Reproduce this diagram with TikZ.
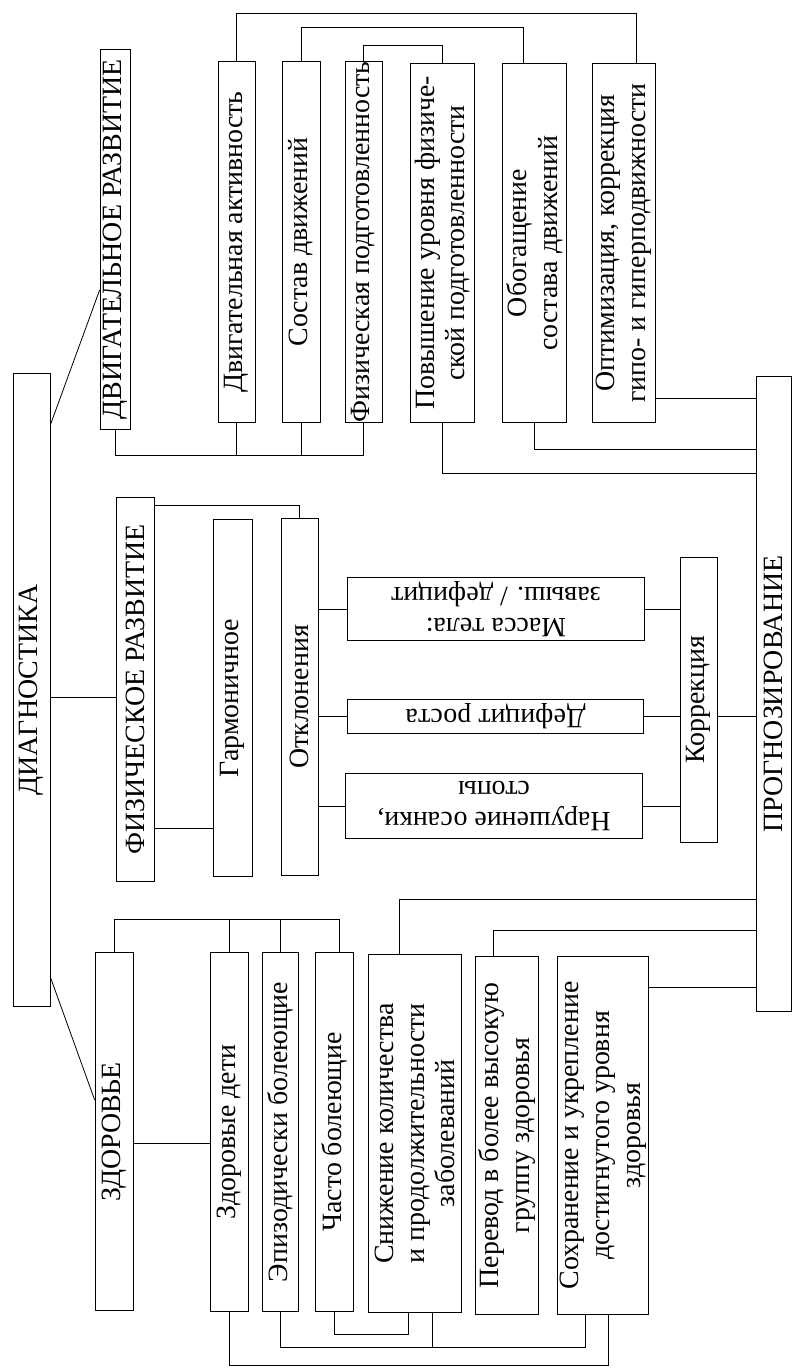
\documentclass[tikz,border=0pt]{standalone}
\usepackage{fontspec}
\setmainfont{Liberation Serif}

\tikzset{
  box/.style 2 args={draw, rotate=90, minimum width=#1, minimum height=#2, inner sep=0pt, align=center},
  flip/.style 2 args={draw, rotate=180, minimum width=#1, minimum height=#2, inner sep=0pt, align=center}
}

\begin{document}
\begin{tikzpicture}[x=1bp, y=-1bp, line width=0.8bp, font=\fontsize{28}{31}\selectfont]
    \useasboundingbox (0,0) rectangle (792,1368);
    \node[box={636}{37}] (diag) at (31.5,690) {ДИАГНОСТИКА};
    \node[box={638}{35}] (prog) at (773.5,694) {ПРОГНОЗИРОВАНИЕ};
    % motor development
    \node[box={381}{30}] (dvig) at (115,239.5) {ДВИГАТЕЛЬНОЕ РАЗВИТИЕ};
    \node[box={362}{37}] (aktiv) at (236.5,242) {Двигательная активность};
    \node[box={362}{38}] (sostav) at (301,242) {Состав движений};
    \node[box={362}{37}] (podg) at (363.5,242) {Физическая подготовленность};
    \node[box={360}{65}] (povysh) at (442.5,243) {Повышение уровня физиче-\\ской подготовленности};
    \node[box={360}{65}] (obog) at (534.5,243) {Обогащение\\состава движений};
    \node[box={360}{64}] (optim) at (624,243) {Оптимизация, коррекция\\гипо- и гиперподвижности};
    % physical development
    \node[box={385}{38}] (fizr) at (135,689.5) {ФИЗИЧЕСКОЕ РАЗВИТИЕ};
    \node[box={358}{39}] (garm) at (232.5,698) {Гармоничное};
    \node[box={358}{37}] (otkl) at (299.5,697) {Отклонения};
    \node[flip={298}{64}] (massa) at (496,609) {Масса тела:\\завыш. / дефицит};
    \node[flip={297}{34}] (rost) at (495.5,716) {Дефицит роста};
    \node[flip={298}{66}] (osanka) at (494,806) {Нарушение осанки,\\стопы};
    \node[box={286}{37}] (korr) at (698.5,700) {Коррекция};
    % health
    \node[box={359}{38}] (zdor) at (114,1131.5) {ЗДОРОВЬЕ};
    \node[box={360}{38}] (deti) at (229,1132) {Здоровые дети};
    \node[box={360}{36}] (epiz) at (280,1132) {Эпизодически болеющие};
    \node[box={360}{38}] (chasto) at (334,1132) {Часто болеющие};
    \node[box={359}{94}] (snizh) at (415,1133.5) {Снижение количества\\и продолжительности\\заболеваний};
    \node[box={359}{64}] (perevod) at (507,1135.5) {Перевод в более высокую\\группу здоровья};
    \node[box={359}{92}] (sohr) at (603,1135.5) {Сохранение и укрепление\\достигнутого уровня\\здоровья};

    \draw (diag.south |- 0,425) -- (dvig.north |- 0,290);
    \draw (diag.south |- 0,697) -- (fizr.north |- 0,697);
    \draw (diag.south |- 0,977) -- (zdor.north |- 0,1100);

    \draw (dvig.west) |- (podg.west |- 0,455) -- (podg.west);
    \draw (aktiv.west) -- (aktiv.west |- 0,455);
    \draw (sostav.west) -- (sostav.west |- 0,455);
    \draw (aktiv.east) |- (636,13) -- (636,0 |- optim.east);
    \draw (sostav.east) |- (523,27) -- (523,0 |- obog.east);
    \draw (podg.east) |- (povysh.east |- 0,45) -- (povysh.east);
    \draw (optim.south |- 0,398) -- (prog.north |- 0,398);
    \draw (obog.west) |- (prog.north |- 0,449);
    \draw (povysh.west) |- (prog.north |- 0,473);

    \draw (fizr.south |- 0,505) -| (otkl.east);
    \draw (fizr.south |- 0,828) -- (garm.north |- 0,828);
    \draw (otkl.south |- massa.east) -- (massa.east);
    \draw (otkl.south |- rost.east) -- (rost.east);
    \draw (otkl.south |- osanka.east) -- (osanka.east);
    \draw (massa.west) -- (korr.north |- massa.west);
    \draw (rost.west) -- (korr.north |- rost.west);
    \draw (osanka.west) -- (korr.north |- osanka.west);
    \draw (korr.south |- 0,716) -- (prog.north |- 0,716);

    \draw (zdor.east) |- (339,919) -- (339,0 |- chasto.east);
    \draw (deti.east) -- (deti.east |- 0,919);
    \draw (epiz.east) -- (epiz.east |- 0,919);
    \draw (zdor.south |- 0,1143) -- (deti.north |- 0,1143);
    \draw (399,0 |- snizh.east) |- (prog.north |- 0,899);
    \draw (493,0 |- perevod.east) |- (prog.north |- 0,930);
    \draw (sohr.south |- 0,987) -- (prog.north |- 0,987);
    \draw (chasto.west) |- (408,1334) -- (408,0 |- snizh.west);
    \draw (epiz.west) |- (585,1347) -- (585,0 |- sohr.west);
    \draw (432,0 |- snizh.west) -- (432,1347);
    \draw (deti.west) |- (608,1365) -- (608,0 |- sohr.west);
\end{tikzpicture}
\end{document}
